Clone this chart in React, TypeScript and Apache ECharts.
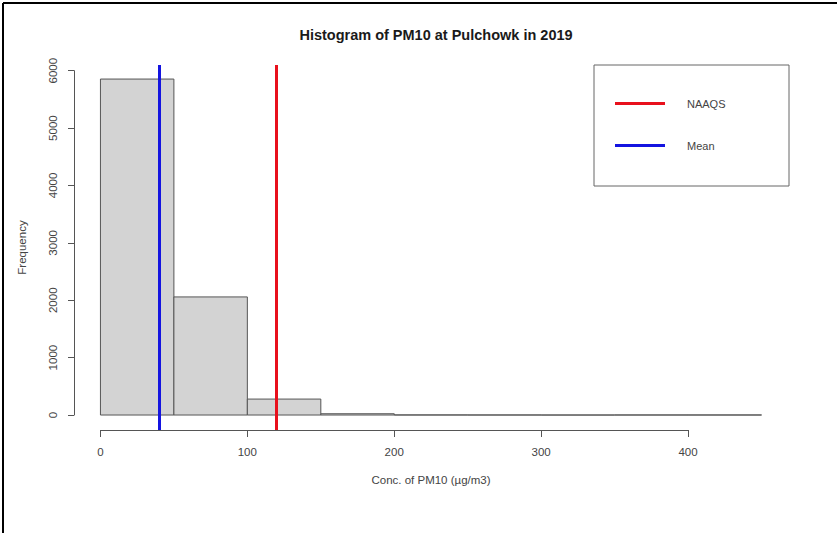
import React, { useEffect, useRef } from "react";
import * as echarts from "echarts";

const titleText = "Histogram of PM10 at Pulchowk in 2019";
const xAxisTitle = "Conc. of PM10 (µg/m3)";
const yAxisTitle = "Frequency";
const binStarts = [0, 50, 100, 150, 200, 250, 300, 350, 400];
const binEnds = [50, 100, 150, 200, 250, 300, 350, 400, 450];
const counts = [5855, 2058, 278, 22, 2, 1, 0, 1, 1];
const xTicks = [0, 100, 200, 300, 400];
const yTicks = [0, 1000, 2000, 3000, 4000, 5000, 6000];
const naaqsValue = 120;
const meanValue = 40.2;
const legendNames = ["NAAQS", "Mean"];

export default function App() {
  const ref = useRef<HTMLDivElement>(null);
  useEffect(() => {
    if (!ref.current) return;
    const chart = echarts.init(ref.current, null, { renderer: "svg" });
    const font = "Liberation Sans, Arial, sans-serif";
    const labelColor = "#444";
    const axisColor = "#555";
    const histData = binStarts.map((s, i) => [s, binEnds[i], counts[i]]);
    chart.setOption({
      animation: false,
      backgroundColor: "#fff",
      title: {
        text: titleText,
        left: 431,
        textAlign: "center",
        top: 22,
        textStyle: { fontFamily: font, fontSize: 14.5, fontWeight: "bold", color: "#1a1a1a" },
      },
      grid: [
        { left: 74, top: 65, width: 714, height: 365 },
        { left: 100.4, top: 400, width: 587.6, height: 30 },
        { left: 74, top: 70.7, width: 10, height: 344.3 },
      ],
      xAxis: [
        {
          gridIndex: 0, type: "value", min: -18, max: 468,
          axisLine: { show: false }, axisTick: { show: false }, axisLabel: { show: false }, splitLine: { show: false },
          name: xAxisTitle, nameLocation: "middle", nameGap: 44,
          nameTextStyle: { fontFamily: font, fontSize: 11.5, color: labelColor },
        },
        {
          gridIndex: 1, type: "value", min: 0, max: 400, interval: 100,
          axisLine: { show: true, lineStyle: { color: axisColor, width: 1 } },
          axisTick: { show: true, length: 7, lineStyle: { color: axisColor } },
          axisLabel: { fontFamily: font, fontSize: 11.5, color: labelColor, margin: 16, customValues: xTicks },
          splitLine: { show: false },
        },
        { gridIndex: 2, type: "value", min: 0, max: 1, show: false },
      ],
      yAxis: [
        {
          gridIndex: 0, type: "value", min: -261, max: 6100,
          axisLine: { show: false }, axisTick: { show: false }, axisLabel: { show: false }, splitLine: { show: false },
          name: yAxisTitle, nameLocation: "middle", nameGap: 46,
          nameTextStyle: { fontFamily: font, fontSize: 11.5, color: labelColor },
        },
        { gridIndex: 1, type: "value", min: 0, max: 1, show: false },
        {
          gridIndex: 2, type: "value", min: 0, max: 6000, interval: 1000, position: "left",
          axisLine: { show: true, lineStyle: { color: axisColor, width: 1 } },
          axisTick: { show: true, inside: false, length: 6, lineStyle: { color: axisColor } },
          axisLabel: {
            fontFamily: font, fontSize: 11.5, color: labelColor, rotate: 90, margin: 15,
            customValues: yTicks, formatter: (v: number) => String(v),
          },
          splitLine: { show: false },
        },
      ],
      legend: {
        show: true,
        data: legendNames,
        orient: "vertical",
        left: 615,
        top: 98,
        padding: 0,
        itemWidth: 50,
        itemHeight: 3,
        itemGap: 31,
        icon: "rect",
        textStyle: { fontFamily: font, fontSize: 11, color: labelColor, padding: [0, 0, 0, 17] },
      },
      graphic: [
        { type: "line", shape: { x1: 3, y1: 3, x2: 837, y2: 3 }, style: { stroke: "#000", lineWidth: 2 } },
        { type: "line", shape: { x1: 3, y1: 3, x2: 3, y2: 533 }, style: { stroke: "#000", lineWidth: 2 } },
        { type: "rect", shape: { x: 594, y: 65, width: 195, height: 121 }, style: { fill: "none", stroke: "#666", lineWidth: 1 }, z: 10 },
      ],
      series: [
        {
          type: "custom",
          xAxisIndex: 0,
          yAxisIndex: 0,
          data: histData,
          encode: { x: [0, 1], y: 2 },
          renderItem: (params: any, api: any) => {
            const p0 = api.coord([api.value(0), api.value(2)]);
            const p1 = api.coord([api.value(1), 0]);
            return {
              type: "rect",
              shape: { x: p0[0], y: p0[1], width: p1[0] - p0[0], height: p1[1] - p0[1] },
              style: { fill: "#d3d3d3", stroke: "#555", lineWidth: 1 },
            };
          },
        },
        {
          name: "NAAQS",
          type: "line",
          xAxisIndex: 0,
          yAxisIndex: 0,
          data: [],
          color: "#e8101c",
          markLine: {
            silent: true,
            symbol: "none",
            label: { show: false },
            lineStyle: { color: "#e8101c", width: 3, type: "solid" },
            data: [{ xAxis: naaqsValue }],
          },
        },
        {
          name: "Mean",
          type: "line",
          xAxisIndex: 0,
          yAxisIndex: 0,
          data: [],
          color: "#1414e0",
          markLine: {
            silent: true,
            symbol: "none",
            label: { show: false },
            lineStyle: { color: "#1414e0", width: 3, type: "solid" },
            data: [{ xAxis: meanValue }],
          },
        },
      ],
    });
    return () => chart.dispose();
  }, []);
  return (
    <div
      ref={ref}
      style={{ position: "fixed", left: 0, top: 0, width: 837, height: 533 }}
    />
  );
}
